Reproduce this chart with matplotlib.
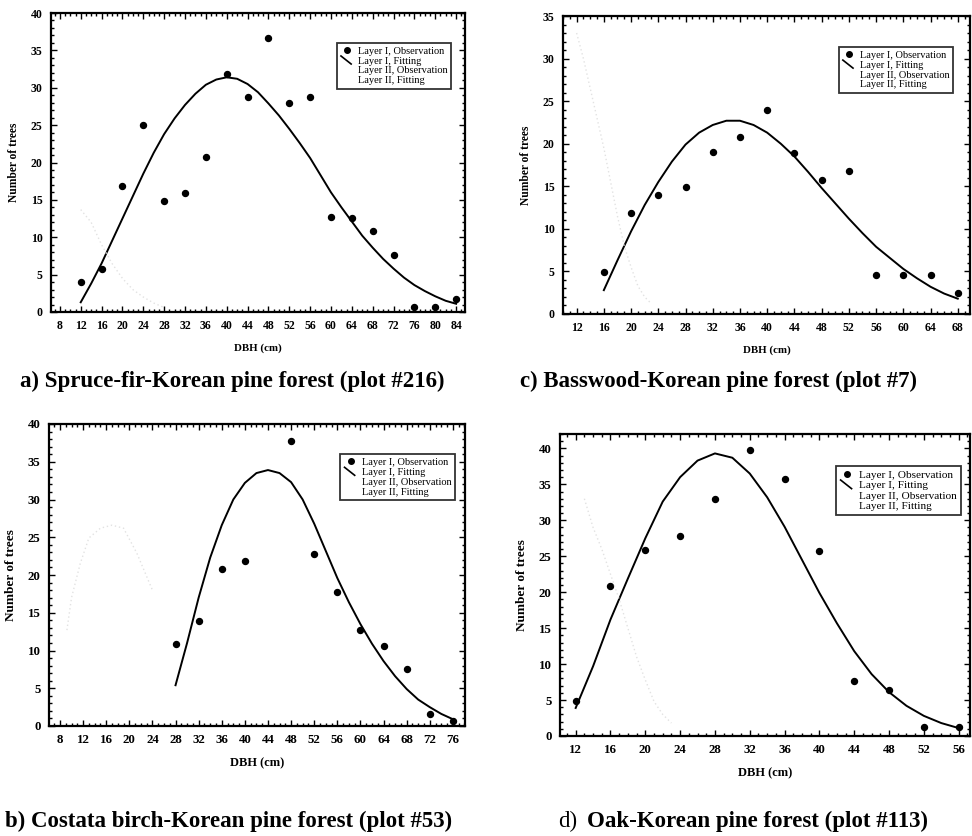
import matplotlib
matplotlib.use("Agg")
import matplotlib.pyplot as plt
from matplotlib.lines import Line2D
from matplotlib.legend_handler import HandlerLine2D
from matplotlib.ticker import MultipleLocator

plt.rcParams['font.family'] = ['Liberation Serif', 'DejaVu Serif']

# ---------------- data ----------------
# a) Spruce-fir-Korean pine forest (plot #216)
a_obs_x = [12, 16, 20, 24, 28, 32, 36, 40, 44, 48, 52, 56, 60, 64, 68, 72, 76, 80, 84]
a_obs_y = [4.0, 5.8, 16.9, 25.0, 14.9, 15.9, 20.7, 31.9, 28.7, 36.7, 27.9, 28.7, 12.7, 12.6, 10.8, 7.6, 0.7, 0.7, 1.7]
a_fit_x = [12, 14, 16, 18, 20, 22, 24, 26, 28, 30, 32, 34, 36, 38, 40, 42, 44, 46, 48, 50, 52, 54, 56, 58, 60,
           62, 64, 66, 68, 70, 72, 74, 76, 78, 80, 82, 84]
a_fit_y = [1.3, 3.8, 6.5, 9.5, 12.5, 15.5, 18.5, 21.3, 23.8, 25.9, 27.7, 29.2, 30.4, 31.1, 31.4, 31.2, 30.5, 29.4,
           27.9, 26.3, 24.5, 22.6, 20.6, 18.3, 16.0, 14.0, 12.1, 10.2, 8.6, 7.1, 5.8, 4.6, 3.6, 2.8, 2.1, 1.5, 1.1]
a_l2_x = [12, 14, 16, 18, 20, 22, 24, 26, 28]
a_l2_y = [13.7, 12.0, 9.0, 6.5, 4.5, 3.0, 2.0, 1.2, 0.6]

# b) Costata birch-Korean pine forest (plot #53)
b_obs_x = [28, 32, 36, 40, 48, 52, 56, 60, 64, 68, 72, 76]
b_obs_y = [10.8, 13.9, 20.8, 21.9, 37.7, 22.8, 17.7, 12.7, 10.6, 7.5, 1.6, 0.6]
b_fit_x = [28, 30, 32, 34, 36, 38, 40, 42, 44, 46, 48, 50, 52, 54, 56, 58, 60, 62, 64, 66, 68, 70, 72, 74, 76]
b_fit_y = [5.4, 11.0, 17.0, 22.3, 26.6, 30.0, 32.2, 33.5, 33.9, 33.5, 32.3, 30.0, 26.8, 23.2, 19.6, 16.4, 13.5,
           10.9, 8.6, 6.6, 4.9, 3.5, 2.5, 1.6, 0.9]
b_l2_x = [9.2, 10, 11.5, 13, 15, 17, 19, 21.3, 24]
b_l2_y = [12.7, 17.0, 21.5, 24.9, 26.2, 26.6, 26.2, 22.9, 18.0]

# c) Basswood-Korean pine forest (plot #7)
c_obs_x = [16, 20, 24, 28, 32, 36, 40, 44, 48, 52, 56, 60, 64, 68]
c_obs_y = [4.9, 11.9, 14.0, 14.9, 19.0, 20.8, 24.0, 18.9, 15.7, 16.8, 4.6, 4.6, 4.6, 2.5]
c_fit_x = [16, 18, 20, 22, 24, 26, 28, 30, 32, 34, 36, 38, 40, 42, 44, 46, 48, 50, 52, 54, 56, 58, 60, 62, 64, 66, 68]
c_fit_y = [2.8, 6.3, 9.7, 12.8, 15.5, 17.9, 19.9, 21.3, 22.2, 22.7, 22.7, 22.2, 21.3, 20.0, 18.5, 16.7, 14.8,
           13.0, 11.2, 9.5, 7.9, 6.6, 5.3, 4.2, 3.2, 2.4, 1.8]
c_l2_x = [12, 13, 14, 15, 16, 17, 18, 19, 20, 21, 22, 23]
c_l2_y = [33.0, 30.0, 26.5, 23.0, 19.5, 15.5, 11.5, 8.0, 5.5, 3.3, 2.0, 1.2]

# d) Oak-Korean pine forest (plot #113)
d_obs_x = [12, 16, 20, 24, 28, 32, 36, 40, 44, 48, 52, 56]
d_obs_y = [4.9, 20.8, 25.9, 27.8, 32.9, 39.8, 35.8, 25.7, 7.6, 6.4, 1.3, 1.25]
d_fit_x = [12, 14, 16, 18, 20, 22, 24, 26, 28, 30, 32, 34, 36, 38, 40, 42, 44, 46, 48, 50, 52, 54, 56]
d_fit_y = [3.9, 9.7, 16.2, 21.9, 27.5, 32.6, 36.0, 38.3, 39.3, 38.7, 36.5, 33.2, 29.1, 24.5, 19.9, 15.7, 11.8,
           8.6, 6.1, 4.2, 2.8, 1.8, 1.1]
d_l2_x = [13, 14, 15, 16, 17, 18, 19, 20, 21, 22, 23]
d_l2_y = [33.0, 29.0, 26.0, 22.5, 19.0, 15.0, 11.0, 7.8, 4.8, 3.0, 1.8]

legend_labels = ["Layer I, Observation", "Layer I, Fitting", "Layer II, Observation", "Layer II, Fitting"]
x_label = "DBH (cm)"
y_label = "Number of trees"
captions = {
    'a': "a) Spruce-fir-Korean pine forest (plot #216)",
    'b': "b) Costata birch-Korean pine forest (plot #53)",
    'c': "c) Basswood-Korean pine forest (plot #7)",
    'd': "Oak-Korean pine forest (plot #113)",
}

L2_COLOR = '#e2e2e2'


class HandlerDiag(HandlerLine2D):
    def create_artists(self, legend, orig_handle, xdescent, ydescent, width, height, fontsize, trans):
        x0 = -xdescent + width * 0.05
        line = Line2D([x0, x0 + width * 0.75], [height * 1.05 - ydescent, -ydescent - height * 0.05])
        self.update_prop(line, orig_handle, legend)
        line.set_marker('None')
        line.set_transform(trans)
        return [line]


W, H = 972, 836
fig = plt.figure(figsize=(W / 100, H / 100), dpi=100)


def make_axes(left, right, top, bottom):
    return fig.add_axes([left / W, 1 - bottom / H, (right - left) / W, (bottom - top) / H])


def panel(ax, ox, oy, fx, fy, l2x, l2y, xlim, ylim, xticks, yticks, tick_fs, lab_fs, leg_xy, leg_fs):
    ax.plot(fx, fy, color='black', lw=1.4, zorder=3)
    ax.plot(ox, oy, 'o', color='black', ms=4.3, zorder=4)
    ax.plot(l2x, l2y, color=L2_COLOR, lw=1.0, ls=(0, (1, 2)), zorder=5)
    ax.set_xlim(*xlim)
    ax.set_ylim(*ylim)
    ax.set_xticks(xticks)
    ax.set_yticks(yticks)
    ax.xaxis.set_minor_locator(MultipleLocator(1))
    ax.yaxis.set_minor_locator(MultipleLocator(1))
    ax.tick_params(which='both', direction='in', top=True, right=True, width=1.0)
    ax.tick_params(which='major', length=4, labelsize=tick_fs, pad=6)
    ax.tick_params(which='minor', length=2)
    for lab in ax.get_xticklabels() + ax.get_yticklabels():
        lab.set_fontweight('bold')
    for s in ax.spines.values():
        s.set_linewidth(1.6)
    ax.set_ylabel(y_label, fontsize=lab_fs, fontweight='bold', labelpad=8)
    ax.set_xlabel(x_label, fontsize=lab_fs - 0.5, fontweight='bold', labelpad=8)
    h1 = Line2D([], [], marker='o', color='black', ls='None', ms=4)
    h2 = Line2D([], [], color='black', lw=1.2)
    h3 = Line2D([], [], marker='o', color='white', ls='None', ms=4)
    h4 = Line2D([], [], color='white', lw=1.2)
    leg = ax.legend([h1, h2, h3, h4], legend_labels, loc='upper left', bbox_to_anchor=leg_xy,
                    fontsize=leg_fs, frameon=True, fancybox=False, edgecolor='black',
                    handlelength=1.3, handletextpad=0.4, labelspacing=0.05, borderpad=0.35,
                    borderaxespad=0, handler_map={h2: HandlerDiag(), h4: HandlerDiag()})
    leg.get_frame().set_linewidth(1.3)
    leg.set_zorder(10)


# a
ax_a = make_axes(51, 465, 13, 312)
panel(ax_a, a_obs_x, a_obs_y, a_fit_x, a_fit_y, a_l2_x, a_l2_y, (6.3, 85.7), (0, 40),
      list(range(8, 85, 4)), list(range(0, 41, 5)), 8.5, 8.3, (0.69, 0.90), 7.5)
# c
ax_c = make_axes(563, 970, 16, 314)
panel(ax_c, c_obs_x, c_obs_y, c_fit_x, c_fit_y, c_l2_x, c_l2_y, (10.0, 69.8), (0, 35),
      list(range(12, 69, 4)), list(range(0, 36, 5)), 8.5, 8.3, (0.677, 0.896), 7.5)
# b
ax_b = make_axes(49, 465, 424, 726)
panel(ax_b, b_obs_x, b_obs_y, b_fit_x, b_fit_y, b_l2_x, b_l2_y, (6.1, 78.1), (0, 40),
      list(range(8, 77, 4)), list(range(0, 41, 5)), 9.3, 9.5, (0.70, 0.90), 7.5)
# d
ax_d = make_axes(560, 970, 434, 736)
panel(ax_d, d_obs_x, d_obs_y, d_fit_x, d_fit_y, d_l2_x, d_l2_y, (10.2, 57.3), (0, 42),
      list(range(12, 57, 4)), list(range(0, 41, 5)), 9.3, 9.5, (0.673, 0.894), 8.1)

# captions
CAP_FS = 16.5
fig.text(20 / W, 1 - 381 / H, captions['a'], fontsize=CAP_FS, fontweight='bold', va='center', ha='left')
fig.text(520 / W, 1 - 381 / H, captions['c'], fontsize=CAP_FS, fontweight='bold', va='center', ha='left')
fig.text(5 / W, 1 - 821 / H, captions['b'], fontsize=CAP_FS, fontweight='bold', va='center', ha='left')
fig.text(558 / W, 1 - 821 / H, "d)", fontsize=CAP_FS, va='center', ha='left')
fig.text(587 / W, 1 - 821 / H, captions['d'], fontsize=CAP_FS, fontweight='bold', va='center', ha='left')

fig.savefig("out.png", dpi=100)
